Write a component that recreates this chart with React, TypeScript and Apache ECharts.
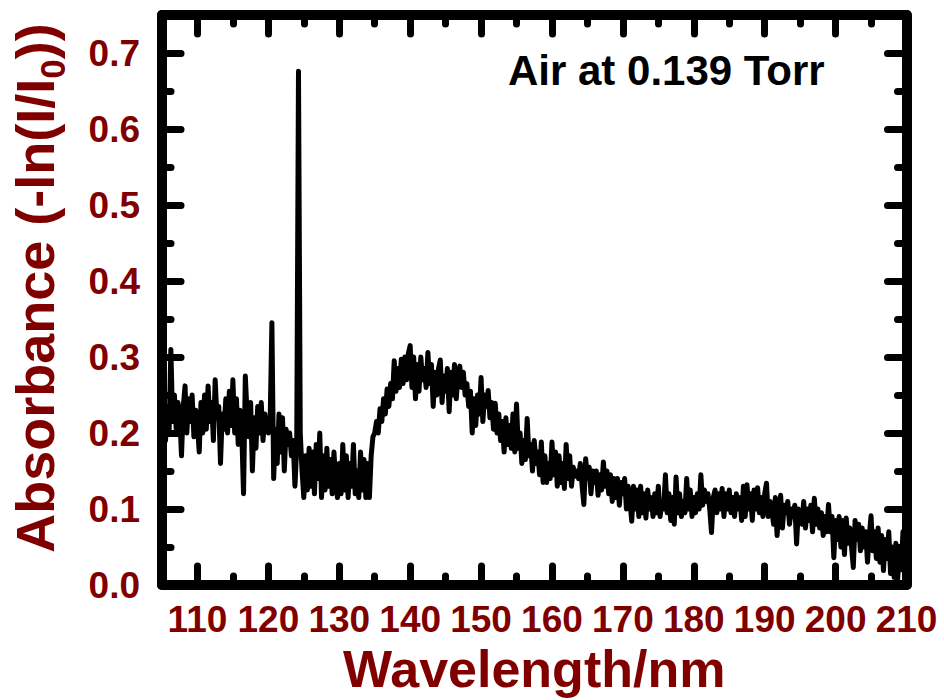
import React, { useEffect, useRef } from "react";
import * as echarts from "echarts";

// Absorption spectrum of air, sampled every 0.25 nm.
const wavelengthStep = 0.25;

// 105.00 – 124.75 nm: noisy plateau with two sharp lines
const band105: number[] = [
  0.22, 0.245, 0.19, 0.235,
  0.2, 0.31, 0.215, 0.25,
  0.205, 0.24, 0.225, 0.17,
  0.235, 0.262, 0.2, 0.245,
  0.215, 0.25, 0.195, 0.23,
  0.21, 0.175, 0.24, 0.2,
  0.25, 0.205, 0.262, 0.215,
  0.24, 0.19, 0.27, 0.22,
  0.235, 0.16, 0.225, 0.205,
  0.245, 0.2, 0.255, 0.21,
  0.27, 0.2, 0.245, 0.185,
  0.23, 0.2, 0.12, 0.275,
  0.225, 0.195, 0.24, 0.15,
  0.22, 0.18, 0.235, 0.2,
  0.24, 0.19, 0.225, 0.21,
  0.2, 0.215, 0.345, 0.14,
  0.205, 0.16, 0.225, 0.175,
  0.22, 0.15, 0.205, 0.185,
  0.2, 0.17, 0.19, 0.13,
  0.18, 0.676, 0.2, 0.15,
];

// 125.00 – 134.75 nm: absorption minimum
const band125: number[] = [
  0.115, 0.17, 0.125, 0.18,
  0.13, 0.175, 0.12, 0.185,
  0.14, 0.2, 0.115, 0.17,
  0.125, 0.18, 0.13, 0.165,
  0.12, 0.175, 0.135, 0.115,
  0.16, 0.12, 0.185, 0.125,
  0.17, 0.115, 0.16, 0.13,
  0.185, 0.12, 0.15, 0.115,
  0.175, 0.125, 0.165, 0.115,
  0.16, 0.115, 0.17, 0.195,
];

// 135.00 – 159.75 nm: broad band around 140–147 nm
const band135: number[] = [
  0.2, 0.215, 0.2, 0.232,
  0.215, 0.245, 0.225, 0.258,
  0.235, 0.265, 0.245, 0.295,
  0.255, 0.285, 0.26, 0.297,
  0.265, 0.3, 0.27, 0.305,
  0.315, 0.26, 0.3, 0.245,
  0.29, 0.255, 0.3, 0.27,
  0.285, 0.26, 0.306, 0.265,
  0.29, 0.235, 0.28, 0.25,
  0.285, 0.296, 0.24, 0.275,
  0.255, 0.285, 0.228, 0.28,
  0.25, 0.29, 0.245, 0.275,
  0.288, 0.26, 0.28, 0.25,
  0.265, 0.235, 0.255, 0.2,
  0.245, 0.21, 0.25, 0.225,
  0.273, 0.215, 0.25, 0.235,
  0.256, 0.22, 0.24, 0.205,
  0.239, 0.2, 0.225, 0.19,
  0.215, 0.175, 0.22, 0.185,
  0.21, 0.18, 0.225, 0.175,
  0.238, 0.18, 0.2, 0.16,
  0.19, 0.165, 0.219, 0.17,
  0.185, 0.15, 0.19, 0.16,
  0.175, 0.145, 0.188, 0.135,
  0.17, 0.135, 0.16, 0.14,
];

// 160.00 – 209.75 nm: slowly falling tail
const band160: number[] = [
  0.188, 0.145, 0.175, 0.13,
  0.17, 0.135, 0.16, 0.127,
  0.185, 0.14, 0.17, 0.13,
  0.155, 0.143, 0.15, 0.14,
  0.16, 0.13, 0.106, 0.166,
  0.14, 0.155, 0.12, 0.15,
  0.135, 0.15, 0.118, 0.145,
  0.125, 0.162, 0.13, 0.15,
  0.12, 0.145, 0.11, 0.14,
  0.115, 0.14, 0.105, 0.135,
  0.12, 0.14, 0.1, 0.13,
  0.11, 0.084, 0.13, 0.1,
  0.125, 0.09, 0.13, 0.095,
  0.12, 0.088, 0.125, 0.1,
  0.115, 0.09, 0.12, 0.095,
  0.13, 0.09, 0.11, 0.1,
  0.145, 0.095, 0.12, 0.085,
  0.115, 0.08, 0.142, 0.095,
  0.12, 0.09, 0.11, 0.095,
  0.14, 0.1, 0.125, 0.09,
  0.115, 0.095, 0.12, 0.1,
  0.145, 0.105, 0.125, 0.11,
  0.12, 0.1, 0.069, 0.115,
  0.125, 0.095, 0.12, 0.1,
  0.127, 0.09, 0.12, 0.1,
  0.125, 0.095, 0.115, 0.09,
  0.12, 0.1, 0.115, 0.085,
  0.13, 0.09, 0.132, 0.1,
  0.12, 0.085, 0.125, 0.1,
  0.128, 0.095, 0.115, 0.09,
  0.12, 0.134, 0.09, 0.11,
  0.1, 0.08, 0.115, 0.065,
  0.1, 0.118, 0.075, 0.105,
  0.095, 0.11, 0.08, 0.1,
  0.09, 0.105, 0.054, 0.1,
  0.095, 0.08, 0.11, 0.075,
  0.1, 0.085, 0.105, 0.07,
  0.114, 0.08, 0.1, 0.075,
  0.095, 0.065, 0.09, 0.07,
  0.106, 0.07, 0.09, 0.036,
  0.085, 0.06, 0.09, 0.05,
  0.085, 0.04, 0.088, 0.055,
  0.075, 0.05, 0.023, 0.085,
  0.06, 0.08, 0.045, 0.075,
  0.05, 0.07, 0.03, 0.065,
  0.091, 0.045, 0.07, 0.035,
  0.075, 0.03, 0.065, 0.019,
  0.06, 0.035, 0.07, 0.015,
  0.05, 0.01, 0.055, 0.007,
  0.045, 0.02, 0.07, 0.04,
];

const segments: { start: number; values: number[] }[] = [
  { start: 105, values: band105 },
  { start: 125, values: band125 },
  { start: 135, values: band135 },
  { start: 160, values: band160 },
];

const xTickLabels = [110, 120, 130, 140, 150, 160, 170, 180, 190, 200, 210];
const yTickLabels = ["0.0", "0.1", "0.2", "0.3", "0.4", "0.5", "0.6", "0.7"];
const annotation = "Air at 0.139 Torr";

const FONT = "'Liberation Sans', Arial, Helvetica, sans-serif";
const LABEL_RED = "#800000";

const spectrum: [number, number][] = [];
segments.forEach((seg) => {
  seg.values.forEach((v, i) => {
    spectrum.push([seg.start + i * wavelengthStep, v]);
  });
});

const frameLine = { color: "#000", width: 10, cap: "round" as const };
const tickLine = { color: "#000", width: 7, cap: "round" as const };

function xAxisCfg(position: "bottom" | "top", withLabels: boolean) {
  return {
    type: "value" as const,
    position,
    min: 105,
    max: 210,
    splitNumber: 10,
    axisLine: { show: true, onZero: false, lineStyle: frameLine },
    axisTick: { show: true, inside: true, length: 19, lineStyle: tickLine },
    minorTick: { show: true, splitNumber: 2, length: 9, lineStyle: tickLine },
    splitLine: { show: false },
    axisLabel: withLabels
      ? {
          show: true,
          margin: 16,
          showMinLabel: false,
          color: LABEL_RED,
          fontFamily: FONT,
          fontWeight: "bold" as const,
          fontSize: 37,
          formatter: (v: number) =>
            xTickLabels.indexOf(Math.round(v)) >= 0 && Math.abs(v - Math.round(v)) < 1e-6
              ? String(Math.round(v))
              : "",
        }
      : { show: false },
    name: withLabels ? "Wavelength/nm" : "",
    nameLocation: "middle" as const,
    nameGap: 58,
    nameTextStyle: {
      color: LABEL_RED,
      fontFamily: FONT,
      fontWeight: "bold" as const,
      fontSize: 52,
    },
  };
}

function yAxisCfg(position: "left" | "right", withLabels: boolean) {
  return {
    type: "value" as const,
    position,
    min: 0,
    max: 0.75,
    interval: 0.1,
    axisLine: { show: true, onZero: false, lineStyle: frameLine },
    axisTick: { show: true, inside: true, length: 19, lineStyle: tickLine },
    minorTick: { show: true, splitNumber: 2, length: 9, lineStyle: tickLine },
    splitLine: { show: false },
    axisLabel: withLabels
      ? {
          show: true,
          margin: 22,
          showMaxLabel: false,
          color: LABEL_RED,
          fontFamily: FONT,
          fontWeight: "bold" as const,
          fontSize: 37,
          formatter: (v: number) => {
            const idx = Math.round(v * 10);
            return Math.abs(v * 10 - idx) < 1e-6 && idx < yTickLabels.length
              ? yTickLabels[idx]
              : "";
          },
        }
      : { show: false },
  };
}

export default function App() {
  const ref = useRef<HTMLDivElement>(null);

  useEffect(() => {
    if (!ref.current) return;
    const chart = echarts.init(ref.current, undefined, { renderer: "svg" });
    chart.setOption({
      animation: false,
      backgroundColor: "#fff",
      grid: { left: 162, right: 37.5, top: 15, bottom: 112.5, containLabel: false },
      xAxis: [xAxisCfg("bottom", true), xAxisCfg("top", false)],
      yAxis: [yAxisCfg("left", true), yAxisCfg("right", false)],
      series: [
        {
          type: "line",
          xAxisIndex: 0,
          yAxisIndex: 0,
          data: spectrum,
          showSymbol: false,
          symbol: "none",
          clip: true,
          lineStyle: { color: "#000", width: 5, join: "round", cap: "round" },
        },
      ],
      graphic: [
        {
          type: "text",
          x: 35,
          y: 288,
          rotation: Math.PI / 2,
          style: {
            text: "{a|Absorbance (-ln(I/I}{s|0}{a|))}",
            align: "center",
            verticalAlign: "middle",
            fill: LABEL_RED,
            rich: {
              a: {
                fontFamily: FONT,
                fontWeight: "bold",
                fontSize: 54,
                lineHeight: 70,
                fill: LABEL_RED,
                color: LABEL_RED,
              },
              s: {
                fontFamily: FONT,
                fontWeight: "bold",
                fontSize: 35,
                lineHeight: 17,
                verticalAlign: "bottom",
                fill: LABEL_RED,
                color: LABEL_RED,
              },
            },
          },
        },
        {
          type: "text",
          x: 508,
          y: 70,
          style: {
            text: annotation,
            align: "left",
            verticalAlign: "middle",
            fill: "#000",
            fontFamily: FONT,
            fontWeight: "bold",
            fontSize: 42,
          },
        },
      ],
    });
    return () => chart.dispose();
  }, []);

  return (
    <div
      ref={ref}
      style={{ position: "absolute", left: 0, top: 0, width: 944, height: 700, background: "#fff" }}
    />
  );
}
